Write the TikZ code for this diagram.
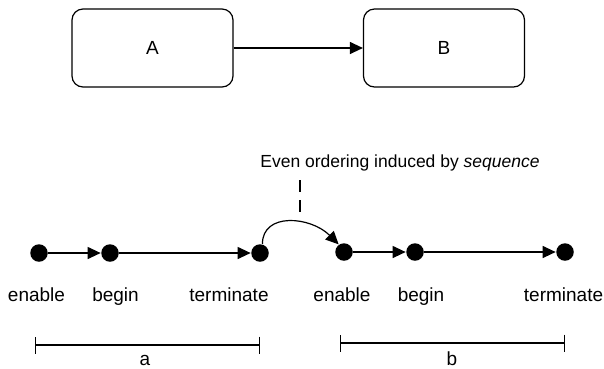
\documentclass[tikz,border=0pt]{standalone}
\usepackage{fontspec}
\setmainfont{Liberation Sans}
\usetikzlibrary{arrows.meta}
\begin{document}
\begin{tikzpicture}[x=1pt,y=-1pt,
  font=\fontsize{19}{22}\selectfont,
  line width=1.2pt,
  box/.style={draw,rounded corners=11pt,minimum width=161pt,minimum height=78pt,inner sep=0pt},
  dot/.style={circle,fill,inner sep=0pt,minimum size=17.5pt},
  lbl/.style={inner sep=0pt,anchor=base},
  arr/.style={-{Triangle[length=13pt,width=12pt]}},
  span/.style={{Bar[width=17pt]}-{Bar[width=17pt]}}]
\useasboundingbox (0,0) rectangle (604,368);
\node[box] (A) at (152.5,48) {A};
\node[box] (B) at (444,48) {B};
\draw[arr] (A) -- (B);
\node[dot] (e1) at (39,253) {};
\node[dot] (b1) at (110,253) {};
\node[dot] (t1) at (260,253) {};
\node[dot] (e2) at (344,252) {};
\node[dot] (b2) at (415,252) {};
\node[dot] (t2) at (565,252) {};
\draw[arr] (e1) -- (b1);
\draw[arr] (b1) -- (t1);
\draw[arr] (e2) -- (b2);
\draw[arr] (b2) -- (t2);
\draw[arr] (t1.75) .. controls +(0,-32) and +(-28,-28) .. (e2.125);
\node[lbl,font=\fontsize{17.5}{20}\selectfont] (ev) at (400,167) {Even ordering induced by \textit{sequence}};
\coordinate (dtop) at (300,180);
\coordinate (dbot) at (300,212);
\draw[dash pattern=on 12pt off 8pt] (dtop) -- (dbot);
\node[lbl] (le1) at (36.5,301) {enable};
\node[lbl] (lb1) at (115.5,301) {begin};
\node[lbl] (lt1) at (229,301) {terminate};
\node[lbl] (le2) at (342,301) {enable};
\node[lbl] (lb2) at (421,301) {begin};
\node[lbl] (lt2) at (563.5,301) {terminate};
\coordinate (a0) at (35,345);
\coordinate (a1) at (260,345);
\coordinate (b0) at (340,343);
\coordinate (b1c) at (565,343);
\draw[span] (a0) -- (a1);
\draw[span] (b0) -- (b1c);
\node[lbl] (la) at (145,365) {a};
\node[lbl] (lb) at (452,365) {b};
\end{tikzpicture}
\end{document}
